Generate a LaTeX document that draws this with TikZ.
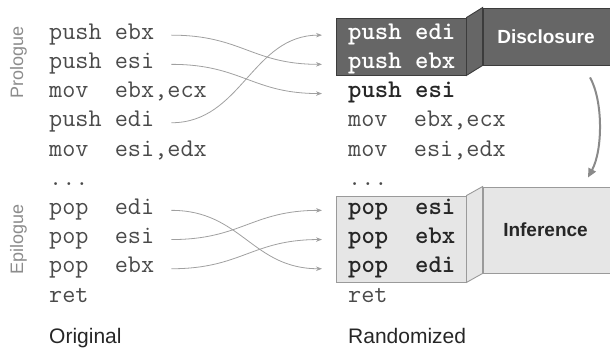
\documentclass[tikz,border=0pt]{standalone}
\usepackage{fontspec}
\setsansfont{Liberation Sans}
\usetikzlibrary{arrows.meta}

\definecolor{codegray}{HTML}{4A4A4A}
\definecolor{sidegray}{HTML}{8C8C8C}
\definecolor{darkfill}{HTML}{666666}
\definecolor{darkedge}{HTML}{3C3C3C}
\definecolor{lightfill}{HTML}{E6E6E6}
\definecolor{lightedge}{HTML}{9A9A9A}
\definecolor{wirecol}{HTML}{A0A0A0}
\definecolor{flowcol}{HTML}{8A8A8A}

\tikzset{
  code/.style={anchor=base west, inner sep=0pt, text=codegray,
    font=\fontsize{25.5}{29}\selectfont\ttfamily},
  boldcode/.style={code, text=black!85, font=\fontsize{25.5}{29}\selectfont\ttfamily\bfseries},
  whitecode/.style={boldcode, text=white},
  sidelabel/.style={rotate=90, inner sep=0pt, text=sidegray,
    font=\fontsize{18}{20}\selectfont\sffamily},
  caption/.style={anchor=base west, inner sep=0pt, text=black!85,
    font=\fontsize{21}{24}\selectfont\sffamily},
  darkbox/.style={rectangle, fill=darkfill, draw=darkedge, line width=0.9pt, inner sep=0pt},
  lightbox/.style={rectangle, fill=lightfill, draw=lightedge, line width=0.9pt, inner sep=0pt},
  boxlabel/.style={font=\fontsize{19}{22}\selectfont\sffamily\bfseries},
  wire/.style={draw=wirecol, line width=0.8pt, -{Stealth[length=6pt,width=4.5pt]}},
  flow/.style={draw=flowcol, line width=2pt, -{Triangle[length=9pt,width=8pt]}}
}

\begin{document}
\begin{tikzpicture}[x=1pt,y=-1pt]
\clip (0,0) rectangle (610,349);
\useasboundingbox (0,0) rectangle (610,349);

% highlighted blocks and their stage boxes
\node[darkbox, minimum width=130pt, minimum height=57pt] (pro) at (401,46.5) {};
\node[darkbox, minimum width=129pt, minimum height=57pt] (disc) at (547.5,36.5) {};
\filldraw[fill=darkfill, draw=darkedge, line width=0.9pt]
  (pro.north east) -- (disc.north west) -- (disc.south west) -- (pro.south east) -- cycle;
\node[boxlabel, text=white] (disclbl) at (546,36.5) {Disclosure};

\node[lightbox, minimum width=130pt, minimum height=86pt] (epi) at (401,239) {};
\node[lightbox, minimum width=129pt, minimum height=86pt] (infer) at (547.5,230) {};
\filldraw[fill=lightfill, draw=lightedge, line width=0.9pt]
  (epi.north east) -- (infer.north west) -- (infer.south west) -- (epi.south east) -- cycle;
\node[boxlabel, text=black!85] (inflbl) at (545.5,230) {Inference};

% original code
\node[code] (l0) at (49,39.3)  {push ebx};
\node[code] (l1) at (49,68.5)  {push esi};
\node[code] (l2) at (49,97.7)  {mov~~ebx,ecx};
\node[code] (l3) at (49,126.9) {push edi};
\node[code] (l4) at (49,156.1) {mov~~esi,edx};
\node[code] (l5) at (49,185.3) {...};
\node[code] (l6) at (49,214.5) {pop~~edi};
\node[code] (l7) at (49,243.7) {pop~~esi};
\node[code] (l8) at (49,272.9) {pop~~ebx};
\node[code] (l9) at (49,302.1) {ret};

% randomized code
\node[whitecode] (r0) at (348,39.3)  {push edi};
\node[whitecode] (r1) at (348,68.5)  {push ebx};
\node[boldcode]  (r2) at (348,97.7)  {push esi};
\node[code]      (r3) at (348,126.9) {mov~~ebx,ecx};
\node[code]      (r4) at (348,156.1) {mov~~esi,edx};
\node[code]      (r5) at (348,185.3) {...};
\node[boldcode]  (r6) at (348,214.5) {pop~~esi};
\node[boldcode]  (r7) at (348,243.7) {pop~~ebx};
\node[boldcode]  (r8) at (348,272.9) {pop~~edi};
\node[code]      (r9) at (348,302.1) {ret};

% section labels
\node[sidelabel] (prolbl) at (18.5,62) {Prologue};
\node[sidelabel] (epilbl) at (18.5,239) {Epilogue};
\node[caption] (orig) at (49,343) {Original};
\node[caption] (rand) at (348,343) {Randomized};

% register moves
\foreach \s/\t in {l0/r1, l1/r2, l3/r0, l6/r8, l7/r6, l8/r7}{
  \draw[wire] ([xshift=17pt,yshift=2pt]\s.mid east)
    .. controls +(70,0) and +(-70,0) ..
    ([xshift=-26pt,yshift=2pt]\t.mid west);
}

% disclosure leads to inference
\draw[flow] ([xshift=42.5pt,yshift=-12pt]disc.south)
  .. controls +(13,23) and +(15,-28) .. ([xshift=40.5pt,yshift=9pt]infer.north);
\end{tikzpicture}
\end{document}
